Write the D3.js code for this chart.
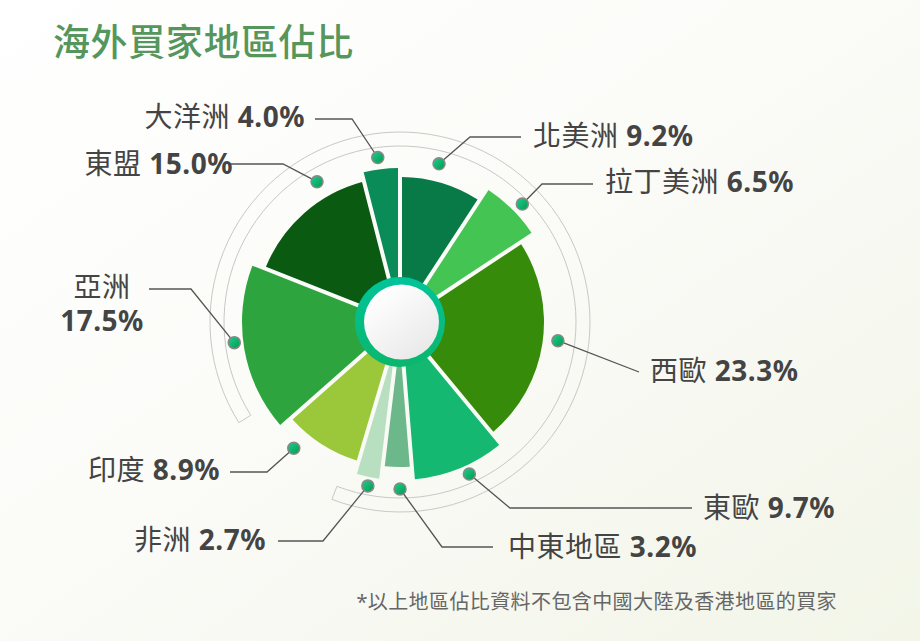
<!DOCTYPE html>
<html><head><meta charset="utf-8">
<script src="https://cdn.jsdelivr.net/npm/d3@7"></script>
<style>html,body{margin:0;padding:0;background:#fff}svg{display:block}</style>
</head><body>
<svg id="chart" width="920" height="641"></svg>
<script>
// ---------- data ----------
const regions = ["北美洲","拉丁美洲","西歐","東歐","中東地區","非洲","印度","亞洲","東盟","大洋洲"];
const shares  = [9.2, 6.5, 23.3, 9.7, 3.2, 2.7, 8.9, 17.5, 15.0, 4.0];
const titleText = "海外買家地區佔比";
const noteText  = "*以上地區佔比資料不包含中國大陸及香港地區的買家";

// ---------- style / layout ----------
const colors = ["#077a48","#44c452","#368c0a","#14b870","#6db88b","#b8e0c0","#9bc83a","#2ea43e","#0a5a12","#0a8c58"];
const outerR = [145,159,144,158,145,158,145,158,145,154];
const dotShift = [-2.7, 1.2, -1.7, -2.4, -1.1, -0.6, 7.5, 2.8, 10.8, -0.5]; // degrees
const dotRad   = [163, 170, 159, 167, 167, 167, 165, 167, 163, 166];
const labelLayout = [
  {x:533, y:146, anchor:"start", pts:[[470,137],[521,137]]},
  {x:605, y:192, anchor:"start", pts:[[542,184],[593,184]]},
  {x:650, y:381, anchor:"start", pts:[[639,372]]},
  {x:703, y:518, anchor:"start", pts:[[510,508],[692,508]]},
  {x:508, y:557, anchor:"start", pts:[[442,547],[493,547]]},
  {x:266, y:550, anchor:"end",   pts:[[323,541],[278,541]]},
  {x:220, y:480, anchor:"end",   pts:[[267,472],[230,472]]},
  {x:102, y:297, anchor:"middle",pts:[[191,289],[149,289]], twoLine:true},
  {x:233, y:174, anchor:"end",   pts:[[283,164],[230,164]]},
  {x:305, y:127, anchor:"end",   pts:[[352,119],[315,119]]}
];
const cx = 400, cy = 322;
const FONT = "'Noto Sans','Noto Sans CJK TC',sans-serif";

const svg = d3.select("#chart");
const defs = svg.append("defs");

const bg = defs.append("linearGradient").attr("id","bg").attr("x1","0").attr("y1","0").attr("x2","1").attr("y2","1");
bg.append("stop").attr("offset","0").attr("stop-color","#ffffff");
bg.append("stop").attr("offset","0.45").attr("stop-color","#fbfbf8");
bg.append("stop").attr("offset","1").attr("stop-color","#f2f5e8");

const ringG = defs.append("linearGradient").attr("id","ring").attr("x1","0").attr("y1","0").attr("x2","0").attr("y2","1");
ringG.append("stop").attr("offset","0").attr("stop-color","#00c49a");
ringG.append("stop").attr("offset","1").attr("stop-color","#0bb66c");

const whiteG = defs.append("linearGradient").attr("id","white").attr("x1","0.2").attr("y1","0.1").attr("x2","0.85").attr("y2","0.95");
whiteG.append("stop").attr("offset","0").attr("stop-color","#ffffff");
whiteG.append("stop").attr("offset","1").attr("stop-color","#e8e8e8");

const dotG = defs.append("linearGradient").attr("id","dot").attr("x1","0").attr("y1","0").attr("x2","1").attr("y2","1");
dotG.append("stop").attr("offset","0").attr("stop-color","#1fd08c");
dotG.append("stop").attr("offset","1").attr("stop-color","#01994f");

svg.append("rect").attr("width",920).attr("height",641).attr("fill","url(#bg)");

// title
svg.append("text").attr("x",53).attr("y",56).attr("font-family",FONT).attr("font-size",37)
  .attr("font-weight",500).attr("letter-spacing",0.6).attr("fill","#56965c").text(titleText);

const g = svg.append("g").attr("transform",`translate(${cx},${cy})`);

// grey guide band
const deg = Math.PI/180;
g.append("path")
  .attr("d", d3.arc()({innerRadius:176, outerRadius:190, startAngle:238*deg, endAngle:(201+360)*deg}))
  .attr("fill","none").attr("stroke","#c8c8c8").attr("stroke-width",1);

// slices
const pie = d3.pie().sort(null).value(d=>d).startAngle(0).endAngle(2*Math.PI);
const arcs = pie(shares);
const arc = d3.arc().innerRadius(30).outerRadius(d=>outerR[d.index]).padAngle(0.04).padRadius(100);
g.selectAll("path.slice").data(arcs).join("path").attr("class","slice")
  .attr("d", d=>arc(d)).attr("fill", d=>colors[d.index]);

// centre
g.append("circle").attr("r",45).attr("fill","url(#ring)");
g.append("circle").attr("cx",1.5).attr("r",37.5).attr("fill","url(#white)");

// leaders & dots
const dotPos = arcs.map((d,i)=>{
  const a = (d.startAngle+d.endAngle)/2 + dotShift[i]*deg;
  return [cx + dotRad[i]*Math.sin(a), cy - dotRad[i]*Math.cos(a)];
});
const line = d3.line();
svg.selectAll("path.leader").data(arcs).join("path").attr("class","leader")
  .attr("d",(d,i)=>line([dotPos[i], ...labelLayout[i].pts]))
  .attr("fill","none").attr("stroke","#555").attr("stroke-width",1.3);
svg.selectAll("circle.dot").data(arcs).join("circle").attr("class","dot")
  .attr("cx",(d,i)=>dotPos[i][0]).attr("cy",(d,i)=>dotPos[i][1]).attr("r",6)
  .attr("fill","url(#dot)").attr("stroke","#888").attr("stroke-width",1.5);

// labels
arcs.forEach((d,i)=>{
  const L = labelLayout[i];
  const val = shares[i].toFixed(1) + "%";
  if (L.twoLine) {
    svg.append("text").attr("x",L.x).attr("y",L.y).attr("text-anchor",L.anchor)
      .attr("font-family",FONT).attr("font-size",28).attr("fill","#444").attr("letter-spacing",0.5)
      .text(regions[i]);
    svg.append("text").attr("x",L.x).attr("y",L.y+34).attr("text-anchor",L.anchor)
      .attr("font-family",FONT).attr("font-size",28).attr("font-weight",700).attr("fill","#444")
      .attr("letter-spacing",0.5).text(val);
  } else {
    const t = svg.append("text").attr("x",L.x).attr("y",L.y).attr("text-anchor",L.anchor)
      .attr("font-family",FONT).attr("font-size",28).attr("fill","#444").attr("letter-spacing",0.5);
    t.append("tspan").text(regions[i] + " ");
    t.append("tspan").attr("font-weight",700).text(val);
  }
});

// footnote
svg.append("text").attr("x",837).attr("y",609).attr("text-anchor","end").attr("font-family",FONT)
  .attr("font-size",20).attr("letter-spacing",0.4).attr("fill","#666").text(noteText);
</script>
</body></html>
